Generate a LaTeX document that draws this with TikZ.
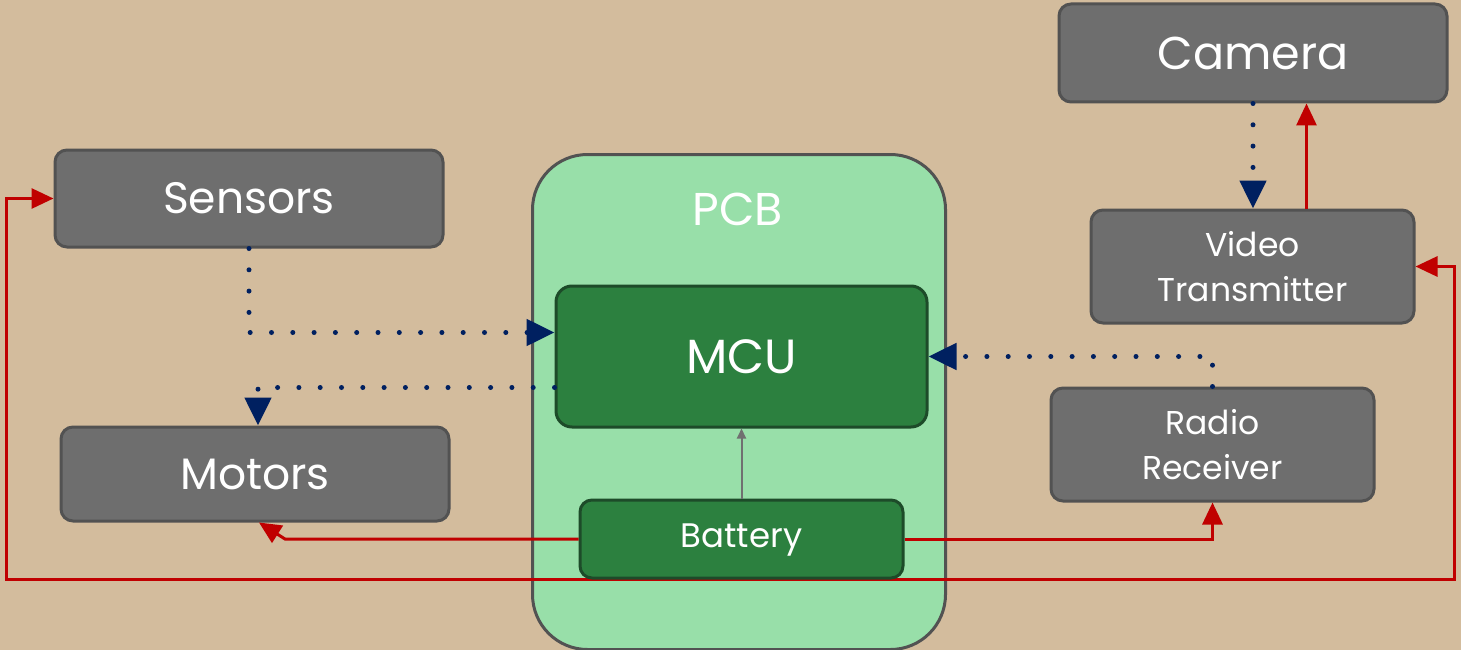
\documentclass[tikz,border=0pt]{standalone}
\usepackage{fontspec}
\setmainfont{Poppins}
\usetikzlibrary{arrows.meta,positioning,backgrounds}
\definecolor{bgtan}{HTML}{D3BC9D}
\definecolor{boxgray}{HTML}{6E6E6E}
\definecolor{boxedge}{HTML}{525252}
\definecolor{pcbgreen}{HTML}{98DFA9}
\definecolor{mcugreen}{HTML}{2C803F}
\definecolor{mcuedge}{HTML}{1D4B29}
\definecolor{powerred}{HTML}{C00000}
\definecolor{datanavy}{HTML}{002060}
\definecolor{feedgray}{HTML}{707070}

\begin{document}
\begin{tikzpicture}[x=1pt, y=-1pt,
    box/.style={draw=boxedge, fill=boxgray, line width=3pt, rounded corners=12pt,
      text=white, inner sep=0pt, align=center},
    chip/.style={draw=mcuedge, fill=mcugreen, line width=3pt, rounded corners=16pt,
      text=white, inner sep=0pt},
    big/.style={font=\fontsize{44}{48}\selectfont},
    small/.style={font=\fontsize{33}{45}\selectfont},
    data/.style={datanavy, line width=5pt, line cap=round, dash pattern=on 0pt off 21.3pt,
      -{Triangle[length=28pt,width=26pt]}},
    power/.style={powerred, line width=3pt, -{Triangle[length=22pt,width=20pt]}},
    powerloop/.style={power, {Triangle[length=22pt,width=20pt]}-{Triangle[length=22pt,width=20pt]}},
    feed/.style={feedgray, line width=2pt, -{Triangle[length=10pt,width=9pt]}}]
    \useasboundingbox (0,0) rectangle (1461,650);

    % board
    \begin{scope}[on background layer]
    \fill[bgtan] (0,0) rectangle (1461,650);
    \node[draw=boxedge, fill=pcbgreen, line width=3pt, rounded corners=55pt,
      minimum width=413pt, minimum height=495pt, anchor=north west] (pcb) at (531,153) {};
    \end{scope}
    \node[text=white, font=\fontsize{46}{50}\selectfont] (pcblabel) at (738,209) {PCB};
    \node[chip, font=\fontsize{48}{52}\selectfont, minimum width=371pt, minimum height=141pt] (mcu) at (741.5,356.5) {MCU};
    \node[chip, rounded corners=12pt, font=\fontsize{34}{38}\selectfont, text depth=6pt,
      minimum width=323pt, minimum height=78pt] (battery) at (741.5,539) {Battery};

    % peripherals
    \node[box, font=\fontsize{46}{50}\selectfont, minimum width=388pt, minimum height=98pt] (camera) at (1253,53) {Camera};
    \node[box, big, minimum width=388pt, minimum height=97pt] (sensors) at (249,198.5) {Sensors};
    \node[box, big, minimum width=388pt, minimum height=94pt] (motors) at (255,474) {Motors};
    \node[box, small, minimum width=323pt, minimum height=113pt] (vtx) at (1252.5,266.5) {Video\\Transmitter};
    \node[box, small, minimum width=323pt, minimum height=113pt] (radio) at (1212.5,444.5) {Radio\\Receiver};

    % signals
    \draw[data] (sensors.south) |- ([yshift=24pt]mcu.west);
    \draw[data] ([yshift=-31pt]mcu.west) -| ([xshift=3pt]motors.north);
    \draw[data] (radio.north) |- (mcu.east);
    \draw[data] (camera.south) -- (camera.south |- vtx.north);

    % power
    \draw[feed] (battery.north) -- (mcu.south);
    \draw[power] ([xshift=54pt]vtx.north) -- ([xshift=54pt]vtx.north |- camera.south);
    \draw[power] (battery.west) -- ([xshift=30pt]motors.south |- battery.west) -- ([xshift=4pt]motors.south);
    \draw[power] (battery.east) -| (radio.south);
    \begin{scope}[on background layer]
    \draw[powerloop] (sensors.west) -- ([xshift=-47pt]sensors.west) |- (battery.south)
      -| ([xshift=39pt]vtx.east) -- (vtx.east);
    \end{scope}
\end{tikzpicture}
\end{document}
